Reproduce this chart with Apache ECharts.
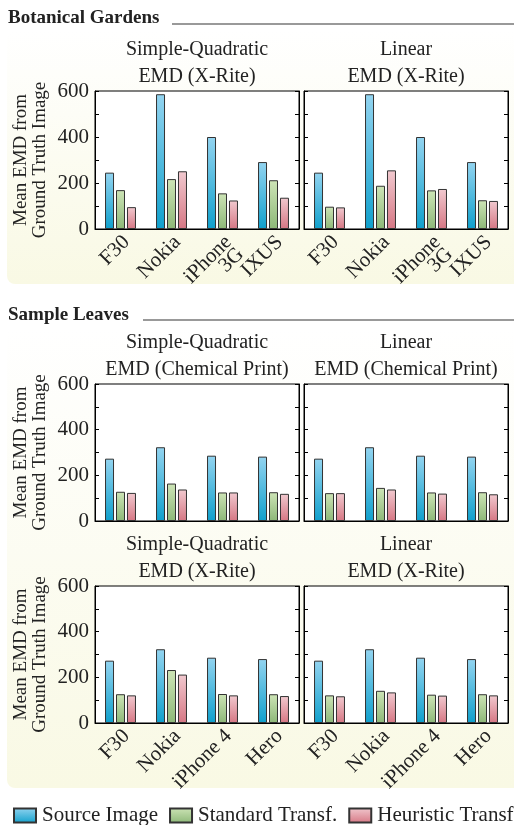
<!DOCTYPE html>
<html><head><meta charset="utf-8">
<script src="https://cdn.jsdelivr.net/npm/echarts@6/dist/echarts.min.js"></script>
<style>html,body{margin:0;padding:0;background:#fff}#c{width:514px;height:825px}</style>
</head><body><div id="c"></div>
<script>
const catsA = ['F30', 'Nokia', 'iPhone\n3G', 'IXUS'];
const catsB = ['F30', 'Nokia', 'iPhone 4', 'Hero'];
const seriesNames = ['Source Image', 'Standard Transf.', 'Heuristic Transf'];
const yTicks = [0, 200, 400, 600];

// Botanical Gardens, Simple-Quadratic EMD (X-Rite)
const botSqSource = [245, 586, 400, 291];
const botSqStandard = [169, 217, 155, 212];
const botSqHeuristic = [95, 251, 124, 136];
// Botanical Gardens, Linear EMD (X-Rite)
const botLinSource = [245, 586, 400, 291];
const botLinStandard = [97, 188, 168, 125];
const botLinHeuristic = [94, 255, 174, 122];
// Sample Leaves, Simple-Quadratic EMD (Chemical Print)
const chemSqSource = [273, 323, 286, 282];
const chemSqStandard = [128, 164, 125, 126];
const chemSqHeuristic = [123, 138, 125, 119];
// Sample Leaves, Linear EMD (Chemical Print)
const chemLinSource = [273, 323, 286, 282];
const chemLinStandard = [122, 145, 125, 126];
const chemLinHeuristic = [122, 138, 120, 117];
// Sample Leaves, Simple-Quadratic EMD (X-Rite)
const xrSqSource = [273, 323, 286, 280];
const xrSqStandard = [126, 232, 127, 126];
const xrSqHeuristic = [121, 212, 121, 118];
// Sample Leaves, Linear EMD (X-Rite)
const xrLinSource = [273, 323, 286, 280];
const xrLinStandard = [121, 141, 124, 126];
const xrLinHeuristic = [117, 134, 120, 121];

const panels = [
  {cats: catsA, data: [botSqSource, botSqStandard, botSqHeuristic], title: 'Simple-Quadratic\nEMD (X-Rite)', labels: true},
  {cats: catsA, data: [botLinSource, botLinStandard, botLinHeuristic], title: 'Linear\nEMD (X-Rite)', labels: true},
  {cats: catsB, data: [chemSqSource, chemSqStandard, chemSqHeuristic], title: 'Simple-Quadratic\nEMD (Chemical Print)', labels: false},
  {cats: catsB, data: [chemLinSource, chemLinStandard, chemLinHeuristic], title: 'Linear\nEMD (Chemical Print)', labels: false},
  {cats: catsB, data: [xrSqSource, xrSqStandard, xrSqHeuristic], title: 'Simple-Quadratic\nEMD (X-Rite)', labels: true},
  {cats: catsB, data: [xrLinSource, xrLinStandard, xrLinHeuristic], title: 'Linear\nEMD (X-Rite)', labels: true}
];

const FONT = '"Liberation Serif", "DejaVu Serif", serif';
const TXT = '#222';
const grids = [
  {left: 95, top: 91, width: 204, height: 138},
  {left: 304, top: 91, width: 204, height: 138},
  {left: 95, top: 384, width: 204, height: 137},
  {left: 304, top: 384, width: 204, height: 137},
  {left: 95, top: 586, width: 204, height: 137},
  {left: 304, top: 586, width: 204, height: 137}
];
const grad = (a, b) => ({type: 'linear', x: 0, y: 0, x2: 0, y2: 1, colorStops: [{offset: 0, color: a}, {offset: 1, color: b}]});
const colors = [grad('#93d4f0', '#10a0cc'), grad('#cde4b6', '#8db878'), grad('#f1c9cf', '#d67784')];

const xAxis = [], yAxis = [], series = [], graphic = [];
panels.forEach((p, i) => {
  xAxis.push({
    type: 'category', gridIndex: i, data: p.cats,
    axisLine: {lineStyle: {color: '#000', width: 1}},
    axisTick: {show: false},
    axisLabel: {show: p.labels, interval: 0, rotate: 45, margin: 4, verticalAlign: 'top', fontSize: 21, lineHeight: 17, fontFamily: FONT, color: TXT}
  });
  const left = i % 2 === 0;
  yAxis.push({
    type: 'value', gridIndex: i, min: yTicks[0], max: yTicks[yTicks.length - 1], interval: 200,
    axisLine: {show: true, lineStyle: {color: '#000'}},
    axisTick: {show: true, inside: true, length: 4, lineStyle: {color: '#000'}},
    minorTick: {show: true, splitNumber: 2, length: 4, lineStyle: {color: '#000'}},
    splitLine: {show: false},
    axisLabel: {show: left, margin: 6, fontSize: 21, fontFamily: FONT, color: TXT}
  });
  p.data.forEach((d, k) => {
    series.push({
      type: 'bar', name: seriesNames[k], xAxisIndex: i, yAxisIndex: i, data: d,
      barWidth: 9, barGap: '22%',
      itemStyle: {color: colors[k], borderColor: '#333', borderWidth: 1},
      emphasis: {disabled: true}
    });
  });
  const g = grids[i];
  graphic.push({
    type: 'text', x: g.left + g.width / 2, y: g.top - 28, z: 10,
    style: {text: p.title, align: 'center', verticalAlign: 'middle', fontSize: 20, lineHeight: 27, fontFamily: FONT, fill: TXT}
  });
});
// right-side mirrored ticks
panels.forEach((p, i) => {
  yAxis.push({
    type: 'value', gridIndex: i, position: 'right', min: 0, max: 600, interval: 200,
    axisLine: {show: true, lineStyle: {color: '#000'}},
    axisTick: {show: true, inside: true, length: 4, lineStyle: {color: '#000'}},
    minorTick: {show: true, splitNumber: 2, length: 4, lineStyle: {color: '#000'}},
    splitLine: {show: false}, axisLabel: {show: false}
  });
});

// backgrounds
graphic.push({type: 'rect', z: -5, shape: {x: 7, y: 30, width: 514, height: 254, r: 8}, style: {fill: grad('#ffffff', '#f9f9e4')}});
graphic.push({type: 'rect', z: -5, shape: {x: 7, y: 328, width: 514, height: 460, r: 8}, style: {fill: grad('#ffffff', '#f9f9e4')}});
// section headers
graphic.push({type: 'text', x: 8, y: 18, style: {text: 'Botanical Gardens', verticalAlign: 'middle', fontSize: 19, fontWeight: 'bold', fontFamily: FONT, fill: TXT}});
graphic.push({type: 'line', shape: {x1: 172, y1: 24, x2: 514, y2: 24}, style: {stroke: '#777', lineWidth: 1.5}});
graphic.push({type: 'text', x: 8, y: 315, style: {text: 'Sample Leaves', verticalAlign: 'middle', fontSize: 19, fontWeight: 'bold', fontFamily: FONT, fill: TXT}});
graphic.push({type: 'line', shape: {x1: 143, y1: 320, x2: 514, y2: 320}, style: {stroke: '#777', lineWidth: 1.5}});
// y axis names
[0, 2, 4].forEach(i => {
  const g = grids[i];
  graphic.push({
    type: 'text', x: 31, y: g.top + g.height / 2, rotation: Math.PI / 2,
    style: {text: 'Mean EMD from\nGround Truth Image', align: 'center', verticalAlign: 'middle', fontSize: 19, lineHeight: 19, fontFamily: FONT, fill: TXT}
  });
});

const chart = echarts.init(document.getElementById('c'), null, {renderer: 'canvas'});
chart.setOption({
  animation: false,
  backgroundColor: '#fff',
  grid: grids.map(g => Object.assign({show: true, backgroundColor: '#fff', borderColor: '#000', borderWidth: 1}, g)),
  xAxis, yAxis, series, graphic,
  legend: {
    data: seriesNames, left: 8, top: 800, width: 700, itemWidth: 22, itemHeight: 14, itemGap: 11,
    icon: 'rect', selectedMode: false,
    textStyle: {fontSize: 21, fontFamily: FONT, color: TXT, padding: [0, 0, 0, 1]}
  }
});
</script></body></html>
